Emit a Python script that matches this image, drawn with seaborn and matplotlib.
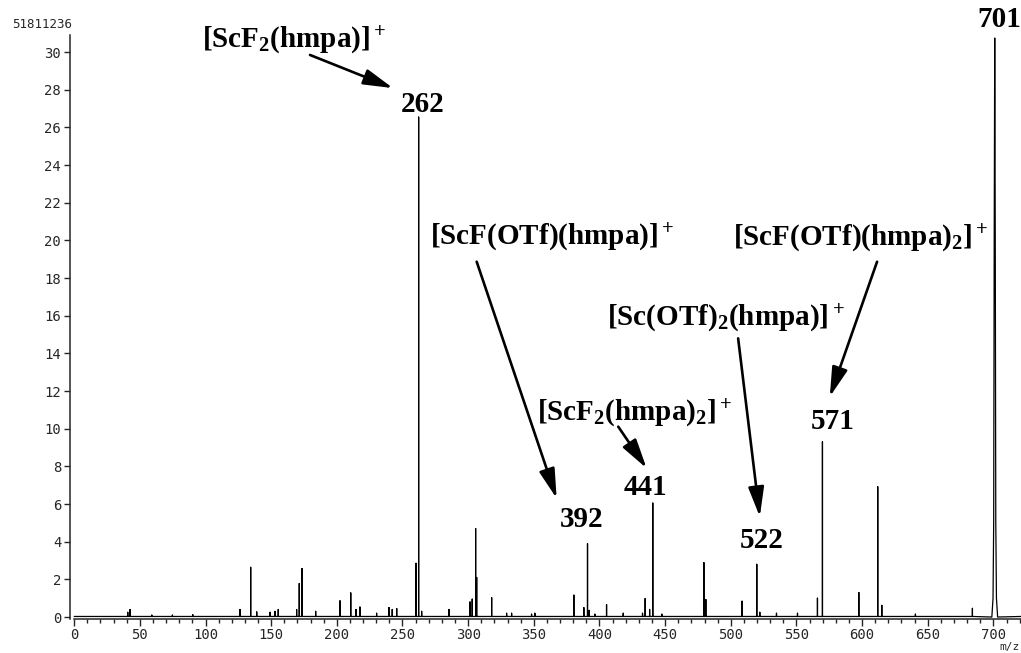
import matplotlib
matplotlib.use("Agg")
import matplotlib.pyplot as plt
import seaborn as sns
import pandas as pd

# ---------------- data ----------------
peak_mz = [40.8, 42.6, 59.1, 74.8, 90.3, 126.3, 134.4, 139.0, 149.1, 152.9,
           155.4, 169.4, 171.4, 173.5, 183.9, 202.4, 210.6, 214.6, 217.6, 230.3,
           239.7, 242.2, 245.6, 260.3, 262.3, 264.6, 285.4, 301.4, 303.1, 305.7,
           306.5, 317.9, 329.3, 333.1, 348.3, 350.8, 380.5, 388.1, 390.9, 392.2,
           396.5, 405.4, 418.1, 432.8, 434.8, 438.2, 440.6, 447.5, 479.5, 481.0,
           508.6, 519.8, 522.1, 534.8, 550.8, 566.0, 569.8, 597.5, 611.9, 615.0,
           640.6, 684.0]
peak_int = [0.25, 0.40, 0.10, 0.10, 0.12, 0.40, 2.64, 0.27, 0.25, 0.30,
            0.40, 0.40, 1.78, 2.57, 0.30, 0.86, 1.28, 0.40, 0.53, 0.20,
            0.50, 0.40, 0.45, 2.85, 26.55, 0.30, 0.40, 0.80, 0.95, 4.70,
            2.10, 1.03, 0.20, 0.20, 0.15, 0.20, 1.16, 0.50, 3.90, 0.35,
            0.15, 0.66, 0.20, 0.20, 0.98, 0.40, 6.05, 0.15, 2.89, 0.93,
            0.84, 2.80, 0.25, 0.20, 0.20, 1.00, 9.31, 1.30, 6.92, 0.62,
            0.15, 0.46]
# profile of the broad base peak at m/z 701
base_mz = [698.8, 699.7, 700.2, 700.6, 701.0, 701.4, 701.8, 702.3, 703.2]
base_int = [0.0, 1.0, 5.0, 20.0, 30.75, 20.0, 5.0, 1.0, 0.0]

ion_labels = [r"$\mathrm{[ScF_2(hmpa)]^+}$",
              r"$\mathrm{[ScF(OTf)(hmpa)]^+}$",
              r"$\mathrm{[ScF_2(hmpa)_2]^+}$",
              r"$\mathrm{[Sc(OTf)_2(hmpa)]^+}$",
              r"$\mathrm{[ScF(OTf)(hmpa)_2]^+}$"]
mass_labels = ["262", "392", "441", "522", "571", "701"]
y_ticks = list(range(0, 31, 2))
x_ticks = list(range(0, 701, 50))
scale_label = "51811236"
x_unit = "m/z"

# ---------------- style ----------------
sns.set_style("ticks")
plt.rcParams.update({
    "font.family": ["DejaVu Sans Mono", "DejaVu Sans"],
    "mathtext.fontset": "custom",
    "mathtext.rm": "Liberation Serif:bold",
    "mathtext.it": "Liberation Serif:bold",
    "mathtext.bf": "Liberation Serif:bold",
    "axes.linewidth": 1.1,
})

fig = plt.figure(figsize=(10.21, 6.53), dpi=100)
ax = fig.add_axes([0.0688, 0.0522, 0.9312, 0.8939])

# build the stick spectrum as one continuous trace
xs, ys = [0.0], [0.03]
for m, h in zip(peak_mz, peak_int):
    xs += [m, m, m]
    ys += [0.03, h, 0.03]
xs += base_mz
ys += base_int
xs.append(721.0)
ys.append(0.03)
df = pd.DataFrame({"mz": xs, "intensity": ys})

sns.lineplot(data=df, x="mz", y="intensity", sort=False, estimator=None,
             color="black", linewidth=0.9, ax=ax)

ax.set_xlim(-3, 721)
ax.set_ylim(-0.1, 30.9)
ax.set_xticks(x_ticks)
ax.set_xticks(list(range(0, 721, 10)), minor=True)
ax.set_yticks(y_ticks)
ax.set_xlabel("")
ax.set_ylabel("")
for side in ("top", "right"):
    ax.spines[side].set_visible(False)
ax.spines["bottom"].set_bounds(0, 721)
ax.tick_params(axis="x", which="major", length=5, width=1.0, pad=1.5,
               labelsize=10, direction="out")
ax.tick_params(axis="x", which="minor", length=3, width=1.0, direction="out")
ax.tick_params(axis="y", which="major", length=4, width=1.0, pad=2.5,
               labelsize=10, direction="out")

# ---------------- annotations ----------------
ion_pos = [(167.4, 30.64), (363.8, 20.18), (427.0, 10.83), (496.1, 15.88), (598.8, 20.13)]
mass_pos = [(265.6, 27.24), (386.4, 5.20), (435.2, 6.88), (523.4, 4.09), (577.3, 10.41), (704.8, 31.76)]
arrows = [((179.6, 29.85), (242.8, 28.09)),
          ((306.5, 18.87), (367.4, 6.30)),
          ((414.3, 10.11), (435.9, 7.90)),
          ((505.6, 14.80), (522.1, 5.33)),
          ((611.4, 18.87), (575.4, 11.70))]

for lab, (x, y) in zip(ion_labels, ion_pos):
    ax.text(x, y, lab, fontsize=21, ha="center", va="center", color="black")
for lab, (x, y) in zip(mass_labels, mass_pos):
    ax.text(x, y, lab, fontsize=21, ha="center", va="center", color="black",
            family="Liberation Serif", fontweight="bold", clip_on=False)
for tail, head in arrows:
    ax.annotate("", xy=head, xytext=tail,
                arrowprops=dict(arrowstyle="-|>,head_length=0.9,head_width=0.24",
                                mutation_scale=20, lw=1.9, color="black",
                                shrinkA=0, shrinkB=0))

fig.text(12 / 1021, 1 - 24 / 653, scale_label, fontsize=9, ha="left", va="center",
         family="DejaVu Sans Mono")
fig.text(1020 / 1021, 1 - 642 / 653, x_unit, fontsize=8, ha="right", va="top",
         family="DejaVu Sans Mono")

fig.savefig("out.png", dpi=100)
